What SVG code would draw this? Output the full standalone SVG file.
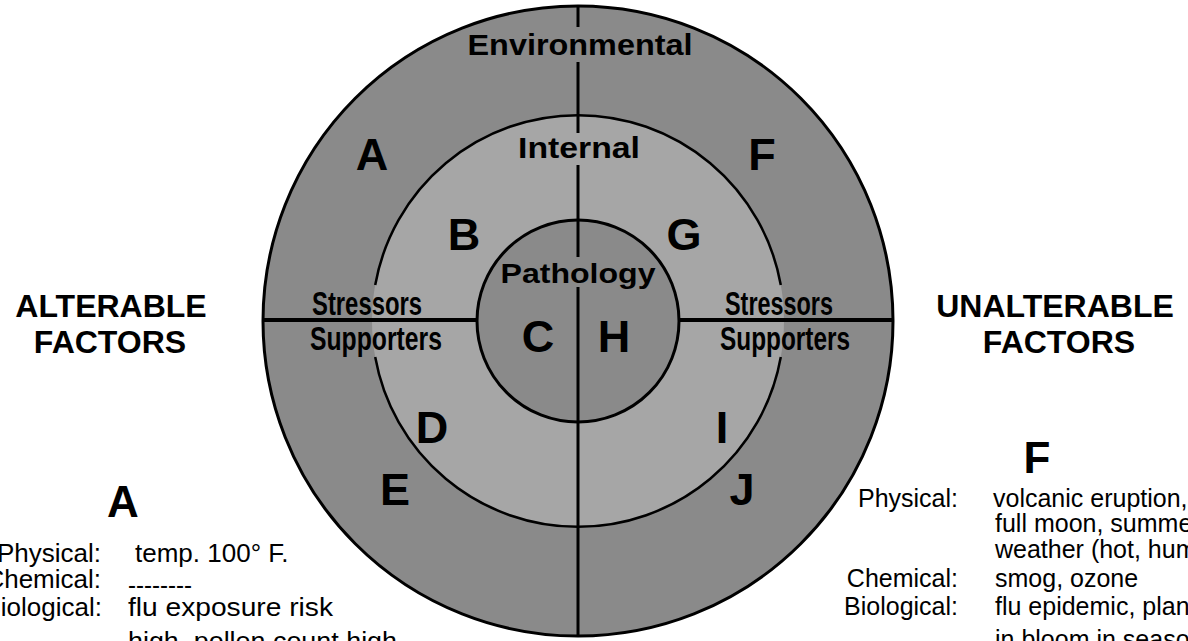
<svg xmlns="http://www.w3.org/2000/svg" width="1188" height="641" viewBox="0 0 1188 641">
<style>
.ring{stroke:#000;stroke-width:3}
.ln{stroke:#000;fill:none}
.big{font-family:"Liberation Sans",Arial,sans-serif;font-weight:bold;fill:#000}
.cond{font-family:"Liberation Sans",Arial,sans-serif;font-weight:bold;fill:#000}
.txt{font-family:"Liberation Sans",Arial,sans-serif;fill:#000;font-size:26px}
.txr{font-family:"Liberation Sans",Arial,sans-serif;fill:#000;font-size:25px}
</style>
<rect width="1188" height="641" fill="#fff"/>
<g id="outer-environmental">
<circle cx="578" cy="321" r="315" fill="#8a8a8a" class="ring"/>
</g>
<g id="middle-internal">
<circle cx="578" cy="321" r="206" fill="#a6a6a6"/>
<path class="ln" stroke-width="2.5" d="M375.2 285 A206 206 0 0 1 780.8 285 M780.8 357 A206 206 0 0 1 375.2 357"/>
</g>
<g id="inner-pathology">
<circle cx="578" cy="321" r="101" fill="#8a8a8a" class="ring" stroke-width="2.5"/>
</g>
<g id="connectors">
<line class="ln" x1="263" y1="320" x2="478" y2="320" stroke-width="4"/>
<line class="ln" x1="678" y1="320" x2="893" y2="320" stroke-width="4"/>
<line class="ln" x1="578" y1="6" x2="578" y2="27" stroke-width="3"/>
<line class="ln" x1="578" y1="62" x2="578" y2="133" stroke-width="3"/>
<line class="ln" x1="578" y1="165" x2="578" y2="257" stroke-width="3"/>
<line class="ln" x1="578" y1="287" x2="578" y2="636" stroke-width="3"/>
</g>
<g id="ring-labels">
<text class="big" x="580" y="55" font-size="30" text-anchor="middle" textLength="225" lengthAdjust="spacingAndGlyphs">Environmental</text>
<text class="big" x="579" y="158" font-size="29" text-anchor="middle" textLength="122" lengthAdjust="spacingAndGlyphs">Internal</text>
<text class="big" x="578" y="283" font-size="28" text-anchor="middle" textLength="155" lengthAdjust="spacingAndGlyphs">Pathology</text>
<text class="cond" x="367" y="315" font-size="34" text-anchor="middle" textLength="110" lengthAdjust="spacingAndGlyphs">Stressors</text>
<text class="cond" x="376" y="350" font-size="34" text-anchor="middle" textLength="132" lengthAdjust="spacingAndGlyphs">Supporters</text>
<text class="cond" x="779" y="315" font-size="34" text-anchor="middle" textLength="108" lengthAdjust="spacingAndGlyphs">Stressors</text>
<text class="cond" x="785" y="350" font-size="34" text-anchor="middle" textLength="130" lengthAdjust="spacingAndGlyphs">Supporters</text>
</g>
<g id="sector-letters" class="big" font-size="45" text-anchor="middle">
<text x="372" y="170">A</text>
<text x="762" y="170">F</text>
<text x="464" y="250">B</text>
<text x="684" y="250">G</text>
<text x="538" y="352">C</text>
<text x="614" y="352">H</text>
<text x="432" y="443">D</text>
<text x="722" y="443">I</text>
<text x="395" y="505">E</text>
<text x="742" y="505">J</text>
</g>
<g id="alterable-title" class="big" font-size="32" text-anchor="middle">
<text x="111" y="317">ALTERABLE</text>
<text x="110" y="353">FACTORS</text>
</g>
<g id="unalterable-title" class="big" font-size="32" text-anchor="middle">
<text x="1055" y="317">UNALTERABLE</text>
<text x="1059" y="353">FACTORS</text>
</g>
<g id="alterable-list">
<text class="big" x="123" y="517" font-size="44" text-anchor="middle">A</text>
<text class="txt" x="101" y="562" text-anchor="end">Physical:</text>
<text class="txt" x="135" y="562">temp. 100° F.</text>
<text class="txt" x="101" y="588" text-anchor="end">Chemical:</text>
<text class="txt" x="128" y="594" textLength="64" lengthAdjust="spacingAndGlyphs">--------</text>
<text class="txt" x="102" y="616" text-anchor="end">Biological:</text>
<text class="txt" x="128" y="616" textLength="205" lengthAdjust="spacingAndGlyphs">flu exposure risk</text>
<text class="txt" x="128" y="650" textLength="269" lengthAdjust="spacingAndGlyphs">high, pollen count high</text>
</g>
<g id="unalterable-list">
<text class="big" x="1037" y="473" font-size="44" text-anchor="middle">F</text>
<text class="txr" x="958" y="507" text-anchor="end">Physical:</text>
<text class="txr" x="993" y="507">volcanic eruption,</text>
<text class="txr" x="995" y="532">full  moon, summer</text>
<text class="txr" x="995" y="558">weather (hot, humid)</text>
<text class="txr" x="958" y="587" text-anchor="end">Chemical:</text>
<text class="txr" x="995" y="587">smog, ozone</text>
<text class="txr" x="958" y="615" text-anchor="end">Biological:</text>
<text class="txr" x="995" y="615">flu epidemic, plants</text>
<text class="txr" x="995" y="648">in bloom in season</text>
</g>
</svg>
